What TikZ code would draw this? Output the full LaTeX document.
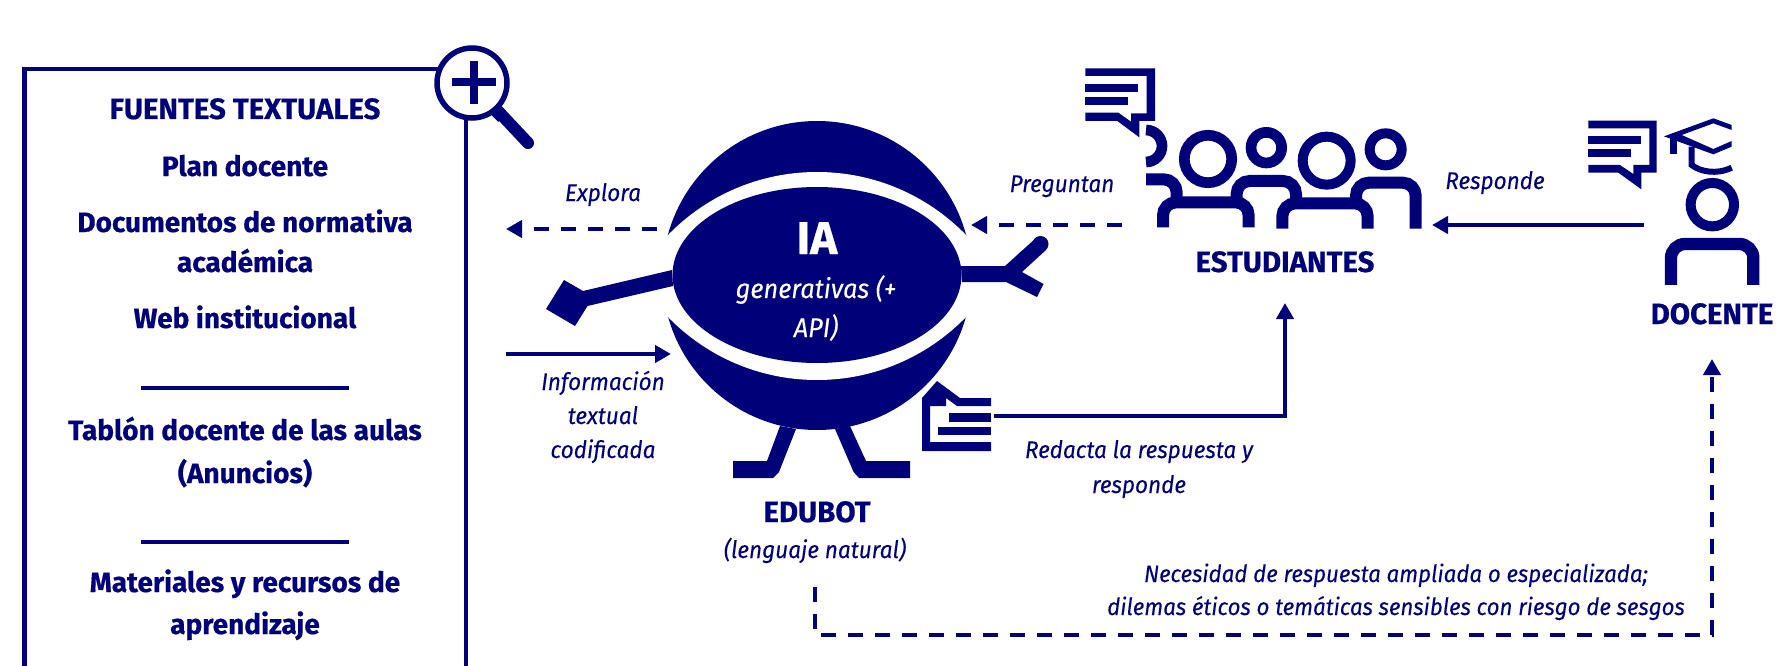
\documentclass[tikz,border=0pt]{standalone}
\usepackage{fontspec}
\setmainfont{Fira Sans}[BoldFeatures={FakeBold=0.5},ItalicFeatures={FakeStretch=0.94,FakeBold=0.12}]
\usetikzlibrary{arrows.meta}
\definecolor{navyc}{RGB}{0,0,120}
\tikzset{
  ttl/.style={anchor=base,inner sep=0pt,text=navyc,font=\fontsize{28}{30}\selectfont\bfseries},
  capsttl/.style={ttl,font=\fontsize{29.4}{30}\selectfont\bfseries},
  lab/.style={anchor=base,inner sep=0pt,text=navyc,font=\fontsize{24}{26}\selectfont\itshape},
  smalllab/.style={lab,font=\fontsize{23.7}{26}\selectfont\itshape},
  solidarrow/.style={draw=navyc,line width=4pt,-{Triangle[length=16pt,width=17pt]}},
  dasharrow/.style={solidarrow,dash pattern=on 15pt off 12pt},
  ink/.style={fill=navyc,draw=none},
  inkline/.style={draw=navyc,fill=none},
  zoomgrid/.style={x=0.33333pt,y=-0.33333pt}
}
\begin{document}
\begin{tikzpicture}[x=1pt,y=-1pt]
\useasboundingbox (0,0) rectangle (1791,666);
\fill[white] (0,0) rectangle (1791,666);

% source box
\draw[inkline,line width=4.5pt] (438,69) -- (24.6,69) -- (24.6,666);
\draw[inkline,line width=3.4pt] (466,120) -- (466,666);
\draw[inkline,line width=3.2pt] (141,388) -- (349,388);
\draw[inkline,line width=3.2pt] (141,542) -- (349,542);
% magnifier
\draw[inkline,line width=5.5pt,fill=white] (472,83) circle[radius=35pt];
\draw[inkline,line width=8pt] (473.6,61) -- (473.6,104);
\draw[inkline,line width=8pt] (452,82) -- (496,82);
\draw[inkline,line width=5pt] (493,113) -- (500,120);
\draw[inkline,line width=12pt,line cap=round] (498,111) -- (528,143);

\node[capsttl] (t1) at (245,119) {FUENTES TEXTUALES};
\node[ttl] (t2) at (245,176) {Plan docente};
\node[ttl] (t3) at (245,232) {Documentos de normativa};
\node[ttl] (t4) at (245,272) {académica};
\node[ttl] (t5) at (245,328) {Web institucional};
\node[ttl] (t6) at (245,440) {Tablón docente de las aulas};
\node[ttl] (t7) at (245,483) {(Anuncios)};
\node[ttl] (t8) at (245,592) {Materiales y recursos de};
\node[ttl] (t9) at (245,634) {aprendizaje};

% robot
\fill[navyc] (817,275.5) circle[radius=154.5pt];
\begin{scope}
  \clip (817,379.7) circle[radius=207.7pt];
  \fill[white] (817,172.3) circle[radius=207.7pt];
\end{scope}
\fill[navyc] (817,275) ellipse[x radius=144.5pt,y radius=88pt];
\fill[ink] (672,270) -- (583,291) -- (564,280) -- (546,309) -- (575,326) -- (587.5,306) -- (673,286) -- cycle;
\fill[ink] (961,266) -- (1005,266) -- (1036,238) -- (1046,250) -- (1022,272) -- (1043.5,284) -- (1037,297) -- (1006,282) -- (962,282) -- cycle;
\fill[ink] (1040.5,244) circle[radius=8pt];
\fill[ink] (780,426) -- (796,429) -- (779,472) -- (773,478) -- (733,478) -- (733,461) -- (767,461) -- cycle;
\fill[ink] (835,429) -- (850,426) -- (866,461) -- (910,461) -- (910,478) -- (859,478) -- (853.6,472) -- cycle;
\node[anchor=base,inner sep=0pt,text=white,font=\fontsize{46}{48}\selectfont\bfseries] (ia) at (817,254) {IA};
\node[lab,text=white,font=\fontsize{27}{29}\selectfont\itshape] (gen) at (816,298) {generativas (+};
\node[lab,text=white,font=\fontsize{27}{29}\selectfont\itshape] (api) at (816,337) {API)};
\node[capsttl] (edu) at (817,522) {EDUBOT};
\node[lab] (leng) at (815,558) {(lenguaje natural)};

% document icon
\fill[ink] (922,398) -- (937,381) -- (960,398) -- (991,398) -- (991,406) -- (957,406) -- (946,398) -- (946,406) -- (930,406) -- (930,442) -- (991,442) -- (991,451) -- (922,451) -- cycle;
\fill[ink] (949,413) rectangle (991,422);
\fill[ink] (938,427) rectangle (991,435);

% students icon
\begin{scope}[shift={(1060,50)},zoomgrid]
  \fill[navyc] (76,55) -- (285,55) -- (285,213) -- (238,213) -- (238,262) -- (172,213) -- (76,213) -- (76,188) -- (175,188) -- (213,215) -- (213,190) -- (260,190) -- (260,78) -- (76,78) -- cycle;
  \fill[ink] (76,102) rectangle (235,127);
  \fill[ink] (76,142) rectangle (204,165);
  \draw[inkline,line width=10.7pt] (258,240) .. controls (285,240) and (306,262) .. (306,288) .. controls (306,314) and (285,336) .. (258,336);
  \draw[inkline,line width=10.7pt] (444,327) circle[radius=23.7pt];
  \draw[inkline,line width=10.7pt] (619,293) circle[radius=15.3pt];
  \draw[inkline,line width=10pt] (800,332) circle[radius=24pt];
  \draw[inkline,line width=10pt] (977,298) circle[radius=16pt];
  \draw[inkline,line width=12pt,rounded corners=13pt] (258,388) -- (350,388) -- (350,450);
  \draw[inkline,line width=12pt,rounded corners=13pt] (309,532) -- (309,457) -- (566,457) -- (566,532);
  \draw[inkline,line width=12pt,rounded corners=13pt] (530,450) -- (530,393) -- (708,393) -- (708,450);
  \draw[inkline,line width=12pt,rounded corners=13pt] (667,536) -- (667,460) -- (923,460) -- (923,536);
  \draw[inkline,line width=12pt,rounded corners=13pt] (888,450) -- (888,398) -- (1067,398) -- (1067,536);
\end{scope}
\node[capsttl] (est) at (1285,272) {ESTUDIANTES};

% teacher icon
\begin{scope}[shift={(1400,90)},zoomgrid]
  \fill[navyc] (565,92) -- (770,92) -- (770,248) -- (724,248) -- (724,298) -- (655,248) -- (565,248) -- (565,225) -- (660,225) -- (700,252) -- (700,225) -- (748,225) -- (748,115) -- (565,115) -- cycle;
  \fill[ink] (565,138) rectangle (722,162);
  \fill[ink] (565,178) rectangle (692,202);
  \draw[inkline,line width=10pt] (937,344) circle[radius=21.7pt];
  \draw[inkline,line width=12.3pt,rounded corners=14pt] (813,585) -- (813,462) -- (1060,462) -- (1060,585);
\end{scope}
\begin{scope}[shift={(1650,105)},zoomgrid]
  \fill[navyc] (42,94) -- (190,40) -- (245,60) -- (245,75) -- (190,55) -- (95,90) -- (190,132) -- (245,108) -- (245,125) -- (190,148) -- cycle;
  \fill[ink] (60,100) rectangle (80,148);
  \draw[inkline,line width=6pt] (125,125) -- (125,180) .. controls (150,200) and (200,210) .. (245,188);
\end{scope}
\node[capsttl] (doc) at (1712,324) {DOCENTE};

% connectors
\coordinate (c1a) at (657,229); \coordinate (c1b) at (506,229);
\coordinate (c2a) at (506,354); \coordinate (c2b) at (671,354);
\coordinate (c3a) at (1122,225); \coordinate (c3b) at (971,225);
\coordinate (c4a) at (1644,225); \coordinate (c4b) at (1432,225);
\coordinate (c5a) at (994,416); \coordinate (c5m) at (1285,416); \coordinate (c5b) at (1285,303);
\coordinate (c6a) at (815,587); \coordinate (c6m) at (815,635); \coordinate (c6n) at (1712,635); \coordinate (c6b) at (1712,359);
\draw[dasharrow] (c1a) -- (c1b);
\draw[solidarrow] (c2a) -- (c2b);
\draw[dasharrow] (c3a) -- (c3b);
\draw[solidarrow] (c4a) -- (c4b);
\draw[solidarrow] (c5a) -- (c5m) -- (c5b);
\draw[dasharrow] (c6a) -- (c6m) -- (c6n) -- (c6b);

\node[lab] (l1) at (603,201) {Explora};
\node[lab] (l2a) at (603,390) {Información};
\node[lab] (l2b) at (603,424) {textual};
\node[lab] (l2c) at (603,458) {codificada};
\node[lab] (l3) at (1062,192) {Preguntan};
\node[lab] (l4) at (1495,189) {Responde};
\node[lab] (l5a) at (1139,458) {Redacta la respuesta y};
\node[lab] (l5b) at (1139,493) {responde};
\node[smalllab] (l6a) at (1396,582) {Necesidad de respuesta ampliada o especializada;};
\node[smalllab] (l6b) at (1396,615) {dilemas éticos o temáticas sensibles con riesgo de sesgos};
\end{tikzpicture}
\end{document}
